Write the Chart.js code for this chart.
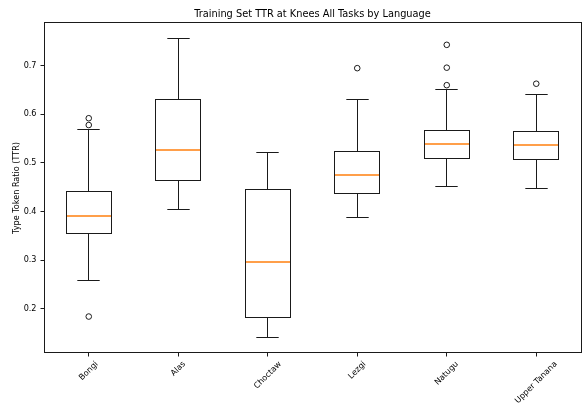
<!DOCTYPE html>
<html><head><meta charset="utf-8">
<script src="https://cdn.jsdelivr.net/npm/chart.js@4.4.0/dist/chart.umd.min.js"></script>
<style>html,body{margin:0;padding:0;background:#fff;}#wrap{width:586px;height:403px;}</style>
</head><body><div id="wrap"><canvas id="c" width="586" height="403"></canvas></div>
<script>
const languages = ['Bongi','Alas','Choctaw','Lezgi','Natugu','Upper Tanana'];
const whiskerLow = [0.258,0.404,0.140,0.387,0.452,0.447];
const q1 = [0.354,0.463,0.183,0.437,0.509,0.507];
const medians = [0.391,0.527,0.297,0.476,0.540,0.537];
const q3 = [0.441,0.631,0.445,0.523,0.567,0.565];
const whiskerHigh = [0.568,0.756,0.521,0.631,0.652,0.641];
const outliers = [[0.592,0.578,0.184],[],[],[0.695],[0.743,0.696,0.660],[0.663]];
const yTicks = [0.2,0.3,0.4,0.5,0.6,0.7];

const LINE = '#1a1a1a';
const MEDIAN = '#ff7f0e';
const FONT = 'DejaVu Sans';
const crisp = v => Math.round(v - 0.5) + 0.5;

const boxPlugin = {
  id: 'boxParts',
  afterDatasetsDraw(chart) {
    const ctx = chart.ctx, xs = chart.scales.x, ys = chart.scales.y;
    const catW = xs.getPixelForValue(1) - xs.getPixelForValue(0);
    ctx.save();
    languages.forEach((lang, i) => {
      const cx = crisp(xs.getPixelForValue(i));
      const capHalf = catW * 0.125;
      const boxHalf = catW * 0.25;
      const yl = crisp(ys.getPixelForValue(whiskerLow[i]));
      const yh = crisp(ys.getPixelForValue(whiskerHigh[i]));
      const yq1 = crisp(ys.getPixelForValue(q1[i]));
      const yq3 = crisp(ys.getPixelForValue(q3[i]));
      const bl = crisp(xs.getPixelForValue(i) - boxHalf);
      const br = crisp(xs.getPixelForValue(i) + boxHalf);
      ctx.strokeStyle = LINE;
      ctx.lineWidth = 1;
      ctx.beginPath();
      ctx.moveTo(cx, yq1); ctx.lineTo(cx, yl);
      ctx.moveTo(cx, yq3); ctx.lineTo(cx, yh);
      ctx.moveTo(cx - capHalf, yl); ctx.lineTo(cx + capHalf, yl);
      ctx.moveTo(cx - capHalf, yh); ctx.lineTo(cx + capHalf, yh);
      ctx.stroke();
      ctx.strokeRect(bl, yq3, br - bl, yq1 - yq3);
      const ym = Math.round(ys.getPixelForValue(medians[i]));
      ctx.strokeStyle = MEDIAN;
      ctx.lineWidth = 1.3;
      ctx.beginPath();
      ctx.moveTo(bl + 0.5, ym); ctx.lineTo(br - 0.5, ym);
      ctx.stroke();
    });
    ctx.restore();
  },
  afterDraw(chart) {
    const ctx = chart.ctx, a = chart.chartArea, xs = chart.scales.x;
    ctx.save();
    ctx.strokeStyle = LINE;
    ctx.lineWidth = 1;
    ctx.strokeRect(crisp(a.left), crisp(a.top), Math.round(a.right - a.left), Math.round(a.bottom - a.top));
    const fs = 8.1;
    ctx.font = fs + 'px "' + FONT + '"';
    ctx.fillStyle = '#000';
    ctx.textAlign = 'center';
    ctx.textBaseline = 'middle';
    const top = a.bottom + 6.5;
    languages.forEach((lang, i) => {
      const w = ctx.measureText(lang).width;
      const h = fs * 1.16;
      const bb = (w + h) * Math.SQRT1_2;
      const cx = xs.getPixelForValue(i);
      ctx.save();
      ctx.translate(cx, top + bb / 2);
      ctx.rotate(-Math.PI / 4);
      ctx.fillText(lang, 0, 0);
      ctx.restore();
    });
    ctx.restore();
  }
};

const outlierPoints = [];
outliers.forEach((arr, i) => arr.forEach(v => outlierPoints.push({x: languages[i], y: v})));

new Chart(document.getElementById('c'), {
  type: 'bar',
  data: {
    labels: languages,
    datasets: [
      {
        label: 'IQR',
        data: languages.map((_, i) => [q1[i], q3[i]]),
        backgroundColor: '#ffffff',
        borderWidth: 0,
        barPercentage: 0.5,
        categoryPercentage: 1.0,
        order: 2
      },
      {
        type: 'scatter',
        label: 'Outliers',
        data: outlierPoints,
        pointStyle: 'circle',
        pointRadius: 2.8,
        borderColor: LINE,
        backgroundColor: 'rgba(0,0,0,0)',
        borderWidth: 1,
        order: 1
      }
    ]
  },
  options: {
    responsive: false,
    animation: false,
    devicePixelRatio: 1,
    layout: { padding: { left: 0, right: 1, top: 0, bottom: 0 } },
    plugins: {
      legend: { display: false },
      tooltip: { enabled: false },
      title: {
        display: true,
        fullSize: false,
        text: 'Training Set TTR at Knees All Tasks by Language',
        color: '#000',
        font: { family: FONT, size: 9.8, weight: 'normal' },
        padding: { top: 8.1, bottom: 3.1 }
      }
    },
    scales: {
      x: {
        type: 'category',
        offset: true,
        grid: { display: true, drawOnChartArea: false, drawTicks: true, tickLength: 3.5, color: LINE, offset: false },
        border: { display: false },
        ticks: { display: false },
        afterFit(s) { s.height = 50; }
      },
      y: {
        min: 0.109,
        max: 0.788,
        grid: { display: true, drawOnChartArea: false, drawTicks: true, tickLength: 3.5, color: LINE },
        border: { display: false },
        afterBuildTicks(s) { s.ticks = yTicks.map(v => ({ value: v })); },
        ticks: {
          color: '#000',
          padding: 4,
          font: { family: FONT, size: 8.1 },
          callback: v => Number(v).toFixed(1)
        },
        title: {
          display: true,
          text: 'Type Token Ratio (TTR)',
          color: '#000',
          font: { family: FONT, size: 8.1 },
          padding: { top: 12, bottom: 0 }
        },
        afterFit(s) { s.width = 44; }
      }
    }
  },
  plugins: [boxPlugin]
});
</script>
</body></html>
